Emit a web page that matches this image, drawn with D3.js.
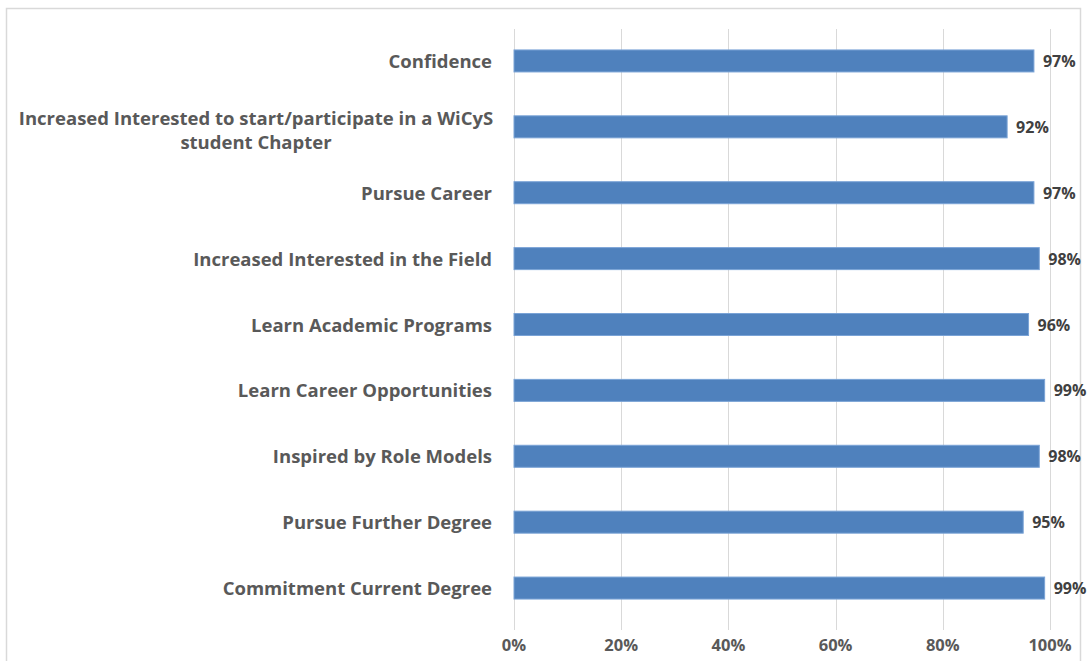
<!DOCTYPE html>
<html>
<head>
<meta charset="utf-8">
<script src="https://cdn.jsdelivr.net/npm/d3@7"></script>
<style>
  body { margin: 0; background: #fff; }
  svg { display: block; font-family: "Open Sans", sans-serif; }
</style>
</head>
<body>
<svg id="chart" width="1087" height="661"></svg>
<script>
const categories = [
  ["Confidence"],
  ["Increased Interested to start/participate in a WiCyS", "student Chapter"],
  ["Pursue Career"],
  ["Increased Interested in the Field"],
  ["Learn Academic Programs"],
  ["Learn Career Opportunities"],
  ["Inspired by Role Models"],
  ["Pursue Further Degree"],
  ["Commitment Current Degree"]
]
const values = [97, 92, 97, 98, 96, 99, 98, 95, 99]
const ticks = [0, 20, 40, 60, 80, 100]

const svg = d3.select('#chart')

// chart frame
svg.append('rect')
  .attr('x', 6.5).attr('y', 8.5)
  .attr('width', 1074).attr('height', 700)
  .attr('fill', 'none')
  .attr('stroke', '#d9d9d9')
  .attr('stroke-width', 1.5)

let x = d3.scaleLinear()
  .domain([0, 100])
  .range([514, 1050])

let y = d3.scaleBand()
  .domain(d3.range(categories.length))
  .range([28, 621])

const barH = 22

// gridlines
svg.append('g')
  .selectAll('line')
  .data(ticks)
  .join('line')
  .attr('x1', d => Math.round(x(d)) + 0.5)
  .attr('x2', d => Math.round(x(d)) + 0.5)
  .attr('y1', 29)
  .attr('y2', 630)
  .attr('stroke', '#d9d9d9')
  .attr('stroke-width', 1)

// x axis labels
svg.append('g')
  .selectAll('text')
  .data(ticks)
  .join('text')
  .attr('x', d => x(d))
  .attr('y', 651)
  .attr('text-anchor', 'middle')
  .attr('font-size', 16.5)
  .attr('font-weight', 700)
  .attr('fill', '#595959')
  .text(d => d + '%')

// bars
svg.append('g')
  .selectAll('rect')
  .data(values)
  .join('rect')
  .attr('x', x(0))
  .attr('y', (d, i) => y(i) + y.bandwidth() / 2 - barH / 2)
  .attr('width', d => x(d) - x(0))
  .attr('height', barH)
  .attr('fill', '#4f81bd')
  .attr('stroke', '#7aa3d6')
  .attr('stroke-width', 1)

// value labels
svg.append('g')
  .selectAll('text')
  .data(values)
  .join('text')
  .attr('x', d => x(d) + 9)
  .attr('y', (d, i) => y(i) + y.bandwidth() / 2 + 6)
  .attr('font-size', 16)
  .attr('font-weight', 700)
  .attr('fill', '#404040')
  .text(d => d + '%')

// category labels
let labels = svg.append('g')
  .selectAll('text')
  .data(categories)
  .join('text')
  .attr('font-size', 18.5)
  .attr('font-weight', 700)
  .attr('fill', '#595959')
  .attr('text-anchor', d => d.length > 1 ? 'middle' : 'end')
  .attr('x', d => d.length > 1 ? 256 : 492)
  .attr('y', (d, i) => y(i) + y.bandwidth() / 2 + 7 - (d.length - 1) * 9)

labels.selectAll('tspan')
  .data(d => d)
  .join('tspan')
  .attr('x', function () { return d3.select(this.parentNode).attr('x') })
  .attr('dy', (d, i) => i ? 24 : 0)
  .text(d => d)
</script>
</body>
</html>
